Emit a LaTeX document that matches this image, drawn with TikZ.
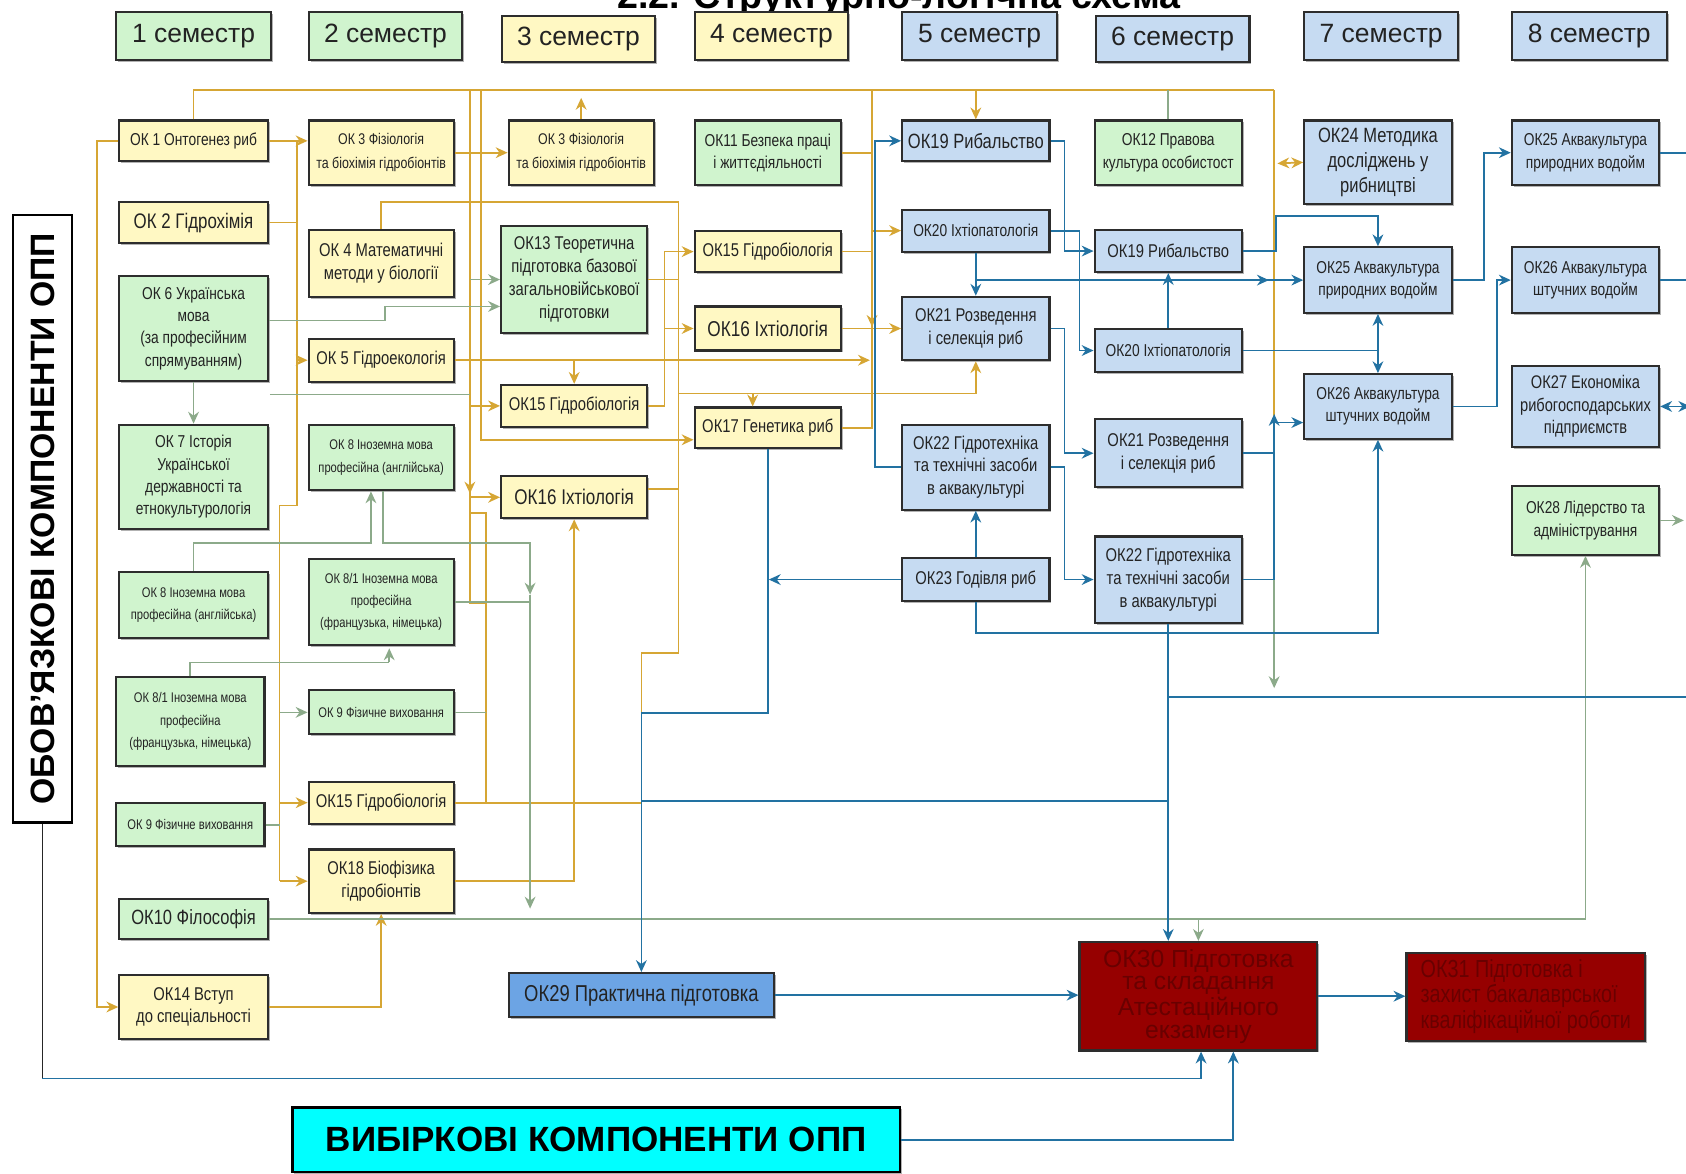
\documentclass[tikz,border=0pt]{standalone}
\usepackage{fontspec}
\setmainfont{Liberation Sans}
\newfontfamily\nar[FakeStretch=0.8]{Liberation Sans}
\usetikzlibrary{arrows.meta,calc,shadows}
\definecolor{yel}{RGB}{255,248,195}
\definecolor{grn}{RGB}{208,244,206}
\definecolor{blu}{RGB}{198,219,242}
\definecolor{gold}{RGB}{214,166,52}
\definecolor{sage}{RGB}{140,170,138}
\definecolor{tb}{RGB}{34,114,162}
\definecolor{okb}{RGB}{108,164,228}
\definecolor{dred}{RGB}{150,0,0}
\definecolor{dtxt}{RGB}{105,0,0}
\definecolor{cyanb}{RGB}{0,255,255}
\newcommand\okbox[7]{\node[kbox,#6,minimum width={(#4-#2)*0.5pt},minimum height={(#5-#3)*0.5pt}] (#1) at ({(#2+#4)/2},{(#3+#5)/2}) {#7};}
\begin{document}
\begin{tikzpicture}[x=0.5pt,y=-0.5pt,
  kbox/.style={draw={rgb,255:red,45;green,45;blue,45},line width=1pt,inner sep=1pt,align=center,text={rgb,255:red,35;green,35;blue,35},font=\nar,
     drop shadow={shadow xshift=0.9pt,shadow yshift=-0.9pt,fill=black,opacity=0.3}},
  hdr/.style={font=\fontsize{12.3}{14}\selectfont},
  fA/.style={font=\nar\fontsize{6.5}{10.3}\selectfont},
  fA2/.style={font=\nar\fontsize{7.2}{11}\selectfont},
  fB/.style={font=\nar\fontsize{8}{10.4}\selectfont},
  fC/.style={font=\nar\fontsize{8.6}{10.6}\selectfont},
  fD/.style={font=\nar\fontsize{9.6}{11.5}\selectfont},
  Y/.style={fill=yel},G/.style={fill=grn},B/.style={fill=blu},
  dx/.style={xshift={(#1)*0.5pt}},
  dy/.style={yshift={-(#1)*0.5pt}},
  cg/.style={draw=gold,line width=0.8pt},
  cs/.style={draw=sage,line width=0.8pt},
  cb/.style={draw=tb,line width=0.8pt},
  ar/.style={-{Stealth[length=5.5pt,width=5pt]}},
  dar/.style={{Stealth[length=5.5pt,width=5pt]}-{Stealth[length=5.5pt,width=5pt]}}]
\useasboundingbox (0,0) rectangle (1568,1091);
\fill[white] (0,0) rectangle (1568,1091);
\clip (0,0) rectangle (1568,1091);
\node[font=\bfseries\fontsize{17.5}{18}\selectfont,anchor=base] (title) at (836,8) {2.2. Структурно-логічна схема};
% semester headers
\okbox{s1}{108}{11}{252}{56}{hdr,G}{1 семестр}
\okbox{s2}{287}{11}{430}{56}{hdr,G}{2 семестр}
\okbox{s3}{467}{15}{609}{58}{hdr,Y}{3 семестр}
\okbox{s4}{646}{11}{789}{56}{hdr,Y}{4 семестр}
\okbox{s5}{839}{11}{983}{56}{hdr,B}{5 семестр}
\okbox{s6}{1019}{15}{1162}{58}{hdr,B}{6 семестр}
\okbox{s7}{1213}{11}{1356}{56}{hdr,B}{7 семестр}
\okbox{s8}{1406}{11}{1550}{56}{hdr,B}{8 семестр}
% column 1
\okbox{ok1}{111}{112}{249}{150}{fB,Y}{ОК 1 Онтогенез риб}
\okbox{ok2}{111}{188}{249}{226}{font=\nar\fontsize{9.8}{11}\selectfont,Y}{ОК 2 Гідрохімія}
\okbox{ok6}{111}{257}{249}{354}{fB,G}{ОК 6 Українська\\мова\\(за професійним\\спрямуванням)}
\okbox{ok7}{111}{395}{249}{492}{fB,G}{ОК 7 Історія\\Української\\державності та\\етнокультурологія}
\okbox{ok8a}{111}{532}{249}{593}{fA,G}{ОК 8 Іноземна мова\\професійна (англійська)}
\okbox{ok81a}{108}{630}{246}{712}{fA,G}{ОК 8/1 Іноземна мова\\професійна\\(французька, німецька)}
\okbox{ok9a}{108}{747}{246}{787}{fA,G}{ОК 9 Фізичне виховання}
\okbox{ok10}{111}{836}{249}{873}{fD,G}{ОК10 Філософія}
\okbox{ok14}{111}{907}{249}{966}{fC,Y}{ОК14 Вступ\\до спеціальності}
% column 2
\okbox{ok3a}{287}{112}{422}{172}{fA2,Y}{ОК 3 Фізіологія\\та біохімія гідробіонтів}
\okbox{ok4}{287}{214}{422}{276}{fC,Y}{ОК 4 Математичні\\методи у біології}
\okbox{ok5}{287}{315}{422}{355}{fC,Y}{ОК 5 Гідроекологія}
\okbox{ok8b}{287}{395}{422}{456}{fA,G}{ОК 8 Іноземна мова\\професійна (англійська)}
\okbox{ok81b}{287}{520}{422}{600}{fA,G}{ОК 8/1 Іноземна мова\\професійна\\(французька, німецька)}
\okbox{ok9b}{287}{642}{422}{683}{fA,G}{ОК 9 Фізичне виховання}
\okbox{ok15a}{287}{727}{422}{766}{fC,Y}{ОК15 Гідробіологія}
\okbox{ok18}{287}{790}{422}{849}{fC,Y}{ОК18 Біофізика\\гідробіонтів}
% column 3
\okbox{ok3b}{473}{112}{608}{172}{fA2,Y}{ОК 3 Фізіологія\\та біохімія гідробіонтів}
\okbox{ok13}{466}{210}{602}{310}{fC,G}{ОК13 Теоретична\\підготовка базової\\загальновійськової\\підготовки}
\okbox{ok15b}{466}{358}{602}{397}{fC,Y}{ОК15 Гідробіологія}
\okbox{ok16a}{466}{443}{602}{482}{font=\nar\fontsize{9.9}{11}\selectfont,Y}{ОК16 Іхтіологія}
\okbox{ok29}{473}{905}{720}{946}{font=\nar\fontsize{10.7}{12}\selectfont,fill=okb}{ОК29 Практична підготовка}
% column 4
\okbox{ok11}{646}{112}{782}{172}{fB,G}{ОК11 Безпека праці\\і життєдіяльності}
\okbox{ok15c}{646}{215}{782}{253}{fC,Y}{ОК15 Гідробіологія}
\okbox{ok16b}{646}{285}{782}{326}{font=\nar\fontsize{10}{11}\selectfont,Y}{ОК16 Іхтіологія}
\okbox{ok17}{646}{379}{782}{417}{fC,Y}{ОК17 Генетика риб}
% column 5
\okbox{ok19a}{839}{112}{976}{150}{fD,B}{ОК19 Рибальство}
\okbox{ok20a}{839}{195}{976}{234}{fB,B}{ОК20 Іхтіопатологія}
\okbox{ok21a}{839}{276}{976}{335}{fC,B}{ОК21 Розведення\\і селекція риб}
\okbox{ok22a}{839}{395}{976}{474}{fC,B}{ОК22 Гідротехніка\\та технічні засоби\\в аквакультурі}
\okbox{ok23}{839}{519}{976}{559}{fC,B}{ОК23 Годівля риб}
% column 6
\okbox{ok12}{1018}{112}{1155}{172}{fB,G}{ОК12 Правова\\культура особистост}
\okbox{ok19b}{1018}{214}{1155}{253}{fC,B}{ОК19 Рибальство}
\okbox{ok20b}{1018}{306}{1155}{346}{fB,B}{ОК20 Іхтіопатологія}
\okbox{ok21b}{1018}{390}{1155}{453}{fC,B}{ОК21 Розведення\\і селекція риб}
\okbox{ok22b}{1018}{499}{1155}{579}{fC,B}{ОК22 Гідротехніка\\та технічні засоби\\в аквакультурі}
% column 7
\okbox{ok24}{1213}{112}{1350}{190}{fD,B}{ОК24 Методика\\досліджень у\\рибництві}
\okbox{ok25a}{1213}{230}{1350}{291}{fB,B}{ОК25 Аквакультура\\природних водойм}
\okbox{ok26a}{1213}{348}{1350}{408}{fB,B}{ОК26 Аквакультура\\штучних водойм}
% column 8
\okbox{ok25b}{1406}{112}{1543}{172}{fB,B}{ОК25 Аквакультура\\природних водойм}
\okbox{ok26b}{1406}{230}{1543}{291}{fB,B}{ОК26 Аквакультура\\штучних водойм}
\okbox{ok27}{1406}{340}{1543}{416}{font=\nar\fontsize{8.5}{10.6}\selectfont,B}{ОК27 Економіка\\рибогосподарських\\підприємств}
\okbox{ok28}{1406}{452}{1543}{516}{fB,G}{ОК28 Лідерство та\\адміністрування}
% final
\okbox{ok30}{1004}{876}{1225}{977}{font=\fontsize{11.5}{10.6}\selectfont,fill=dred,text=dtxt}{ОК30 Підготовка\\та складання\\Атестаційного\\екзамену}
\okbox{ok31}{1308}{886}{1530}{968}{font=\nar\fontsize{11.5}{10.5}\selectfont,fill=dred,text=dtxt,align=left}{ОК31 Підготовка і\\захист бакалаврської\\кваліфікаційної роботи}
\node[draw=black,line width=1.2pt,fill=white,rotate=90,minimum width=282.5pt,minimum height=27.5pt,inner sep=0pt,font=\bfseries\fontsize{15.7}{16}\selectfont] (obov) at (39.5,482.5) {ОБОВ’ЯЗКОВІ КОМПОНЕНТИ ОПП};
\okbox{vyb}{272}{1030}{837}{1090}{fill=cyanb,line width=1.2pt,draw=black,text=black,font=\bfseries\fontsize{16.3}{17}\selectfont}{ВИБІРКОВІ КОМПОНЕНТИ ОПП}
\coordinate (busR) at (1185,84);
% ---------- gold connectors
\draw[cg] (ok1.north) |- (busR);
\draw[cg,ar] (ok1.west) -- (90,131) |- (ok14.west);
\draw[cg,ar] (ok1.east) -- (ok1.east -| ok3a.west);
\draw[cg] (276,131) -- (276,470) -- (260,470) -- (260,819.5);
\draw[cg] (ok2.east) -- (276,207);
\draw[cg,ar] (276,335) -- (ok5.west);
\draw[cs,ar] (260,662.5) -- (ok9b.west);
\draw[cg,ar] (260,746.5) -- (ok15a.west);
\draw[cg,ar] (260,819.5) -- (ok18.west);
\draw[cs] (ok9a.east) -- (260,767);
\draw[cg,ar] (ok3a.east) -- (ok3b.west);
\draw[cg,ar] (ok3b.north) -- ++(0,-20);
\draw[cg,ar] (437,84) |- (ok16a.west);
\draw[cg,ar] (437,430) -- (437,459);
\draw[cg,ar] (437,377.5) -- (ok15b.west);
\draw[cs,ar] (437,260) -- (ok13.west);
\draw[cg,ar] (447,84) |- ([dy=11]ok17.west);
\draw[cg] (437,462.5) -- (437,561) -- (452,561);
\draw[cg] (437,477) -- (452,477) -- (452,746.5);
\draw[cg] (ok15a.east) -- (596.5,746.5);
\draw[cs] (ok9b.east) -- (452,662.5);
\draw[cs] (251,367) -- (437,367);
\draw[cg] (ok4.north) |- (631,188) -- (631,607) -| (596.5,663);
\draw[cg] (ok13.east) -- (631,260);
\draw[cg] ([dy=-8]ok16a.east) -- (631,454.5);
\draw[cg,ar] (ok5.east) -- (809,335);
\draw[cg,ar] (ok5.east -| ok15b.north) -- (ok15b.north);
\draw[cg,ar] (ok15b.east) -- (618,377.5) |- (ok15c.west);
\draw[cg,ar] (618,305.5) -- (ok16b.west);
\draw[cg,ar] (631,366) -| (ok21a.south);
\draw[cg,ar] (700,366) -- ([dx=-14]ok17.north);
\draw[cg] (811,84) -- (811,398) -- (ok17.east);
\draw[cg] (ok11.east) -- (811,142);
\draw[cg] (ok15c.east) -- (811,234);
\draw[cg,ar] (811,214.5) -- (ok20a.west);
\draw[cg,ar] (ok16b.east) -- (ok21a.west);
\draw[cg,ar] (811,280) -- (811,304);
\draw[cg,ar] (ok19a.north |- busR) -- (ok19a.north);
\draw[cg,ar] (ok18.east) -| (ok16a.south);
\draw[cg,ar] (ok14.east) -| (ok18.south);
\draw[cg] (busR) -- (1185,400);
\draw[cs,ar] (1185,400) -- (1185,640);
\draw[cg,dar] (1188,152) -- (ok24.west);
\draw[cs] (ok12.north) -- (ok12.north |- busR);
% ---------- sage connectors
\draw[cs,ar] (ok6.south) -- (ok7.north);
\draw[cs,ar] ([dy=-7.5]ok6.east) -- (358,298) |- ([dy=25]ok13.west);
\draw[cs,ar] (ok8a.north) |- (345,505) -- ([dx=-9.5]ok8b.south);
\draw[cs,ar] ([dx=1.5]ok8b.south) |- (493,505) -- (493,553);
\draw[cs,ar] (493,553) -- (493,845);
\draw[cs] (ok81b.east) -- (493,560);
\draw[cs] (ok81a.north) |- (362,616);
\draw[cs,ar] (362,616) -- (362,603);
\draw[cs,ar] (ok10.east) -| (ok28.south);
\draw[cs,ar] (ok10.east -| ok30.north) -- (ok30.north);
\draw[cs,ar] (ok28.east) -- (1566,484);
% ---------- blue connectors
\draw[cb,ar] (ok19a.east) -- (990,131) |- (ok19b.west);
\draw[cb,ar] (ok20a.east) -- (1004,214.5) |- (ok20b.west);
\draw[cb,ar] (ok20a.south) -- (ok21a.north);
\draw[cb,ar] (907.5,260.5) -- (ok25a.west);
\draw[cb,ar] (1150,260.5) -- (1180,260.5);
\draw[cb,ar] (ok20b.north) -- (ok19b.south);
\draw[cb,ar] (ok21a.east) -- (990,305.5) |- (ok21b.west);
\draw[cb,ar] (ok22a.east) -- (990,434.5) |- (ok22b.west);
\draw[cb,ar] (ok23.north) -- (ok22a.south);
\draw[cb,ar] (ok23.west) -- (715,539);
\draw[cb] (ok17.south) |- (596.5,663);
\draw[cb,ar] (596.5,663) -- (ok29.north);
\draw[cb] (596.5,745) -- (1086.5,745);
\draw[cb,ar] (ok23.south) |- (1281.5,589) -- (ok26a.south);
\draw[cb,ar] (ok22b.south) -- (ok22b.south |- ok30.north);
\draw[cb] (1086.5,648) -- (1568,648);
\draw[cb,ar] (ok19b.east) -- (1187,233.5) |- (1281.5,201) -- (ok25a.north);
\draw[cb] (ok20b.east) -- (1281.5,326);
\draw[cb,dar] (ok25a.south) -- (ok26a.north);
\draw[cb,ar] (ok22b.east) -- (1185,539) -- (1185,393) -- ([dy=15]ok26a.west);
\draw[cb] (ok21b.east) -- (1185,421.5);
\draw[cb,ar] (1185,405) -- (1185,385);
\draw[cb,ar] (ok25a.east) -- (1380,260.5) |- (ok25b.west);
\draw[cb,ar] (ok26a.east) -- (1392,378) |- (ok26b.west);
\draw[cb,ar] (ok22a.west) -- (814,434.5) |- (ok19a.west);
\draw[cb] (ok25b.east) -- (1568,142);
\draw[cb] (ok26b.east) -- (1568,260.5);
\draw[cb,dar] (ok27.east) -- (1572,378);
\draw[cb,ar] (ok29.east) -- (ok29.east -| ok30.west);
\draw[cb,ar] (ok30.east) -- (ok30.east -| ok31.west);
\draw[black!85,line width=0.8pt] (obov.west) -- (39.5,1003);
\draw[cb,ar] (39.5,1003) -- (1117,1003) -- ([dx=2.5]ok30.south);
\draw[cb,ar] (vyb.east) -| ([dx=32.5]ok30.south);
\end{tikzpicture}
\end{document}
